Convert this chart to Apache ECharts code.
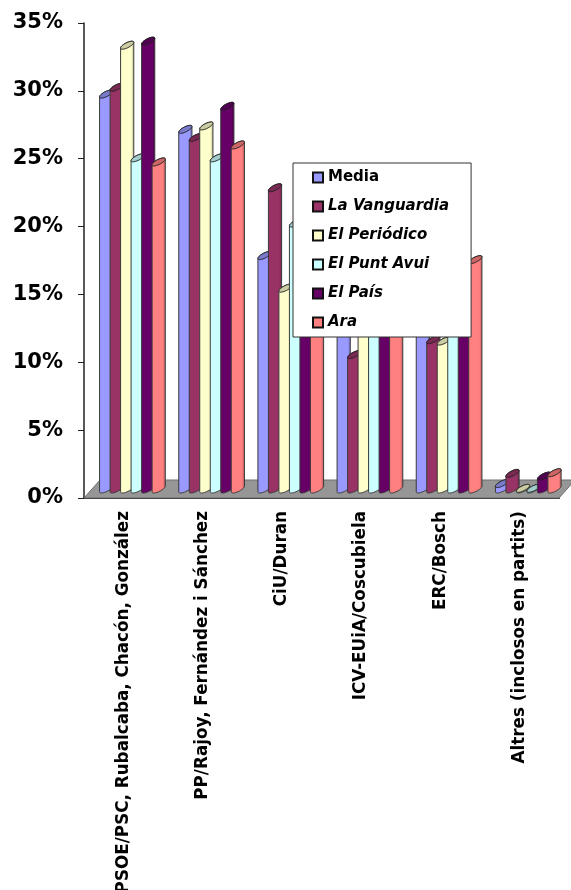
<!DOCTYPE html>
<html>
<head>
<meta charset="utf-8">
<script src="https://cdn.jsdelivr.net/npm/echarts@6/dist/echarts.min.js"></script>
<style>
* { margin: 0; padding: 0; }
body { background: #fff; }
</style>
</head>
<body>
<div id="main" style="width: 571px; height: 890px;"></div>
<script>
var categories = ["PSOE/PSC, Rubalcaba, Chacón, González", "PP/Rajoy, Fernández i Sánchez", "CiU/Duran", "ICV-EUiA/Coscubiela", "ERC/Bosch", "Altres (inclosos en partits)"];
var seriesNames = ["Media", "La Vanguardia", "El Periódico", "El Punt Avui", "El País", "Ara"];
var media = [29.1, 26.5, 17.2, 13, 12.5, 0.4];
var vanguardia = [29.6, 25.9, 22.2, 9.9, 11, 1.15];
var periodico = [32.7, 26.75, 14.8, 13, 10.9, 0.05];
var puntAvui = [24.4, 24.4, 19.6, 13, 12.5, 0.05];
var pais = [33, 28.2, 16, 13, 12.5, 0.95];
var ara = [24.1, 25.35, 16, 13, 16.9, 1.2];
var allValues = [media, vanguardia, periodico, puntAvui, pais, ara];
var colors = ["#9999ff", "#993366", "#ffffcc", "#ccffff", "#660066", "#ff8080"];
var capColors = ["#7a7acc", "#7a2952", "#cccca3", "#a3cccc", "#520052", "#cc6666"];
var sideColors = ["#6b6bb3", "#6b2447", "#b3b38f", "#8fb3b3", "#470047", "#b35a5a"];

// half of the floor depth, bars stand in the middle of it
var DEPTH_X = 8, DEPTH_Y = 9;
var STEP = 10.5, RADIUS_X = 6.6;
var TILT = -27 * Math.PI / 180, A = 7.3, B = 2.5;

function ellipsePoint(cx, cy, t) {
  var ex = A * Math.cos(t), ey = B * Math.sin(t);
  return [cx + ex * Math.cos(TILT) - ey * Math.sin(TILT), cy + ex * Math.sin(TILT) + ey * Math.cos(TILT)];
}

function renderCylinder(params, api) {
  var k = params.seriesIndex - 1;
  var pos = api.coord([api.value(0), api.value(1)]);
  var base = api.coord([api.value(0), 0]);
  var cx = pos[0] + DEPTH_X - 32 + k * STEP + RADIUS_X;
  var topY = pos[1] - DEPTH_Y, botY = base[1] - DEPTH_Y;
  var t0 = Math.atan2(-B * Math.sin(TILT), A * Math.cos(TILT));
  var body = [], cap = [], i;
  // lower half of the bottom ellipse, upper half of the top one
  for (i = 0; i <= 24; i++) body.push(ellipsePoint(cx, botY, t0 + Math.PI * i / 24));
  for (i = 0; i <= 24; i++) body.push(ellipsePoint(cx, topY, t0 + Math.PI + Math.PI * i / 24));
  for (i = 0; i < 48; i++) cap.push(ellipsePoint(cx, topY, Math.PI * 2 * i / 48));
  var fill = {
    type: "linear", x: 0, y: 0, x2: 1, y2: 0,
    colorStops: [
      { offset: 0, color: colors[k] },
      { offset: 0.78, color: colors[k] },
      { offset: 1, color: sideColors[k] }
    ]
  };
  return {
    type: "group",
    children: [
      { type: "polygon", shape: { points: body }, style: { fill: fill, stroke: "#3a3a3a", lineWidth: 1 } },
      { type: "polygon", shape: { points: cap }, style: { fill: capColors[k], stroke: "#222", lineWidth: 1 } }
    ]
  };
}

function renderFloor(params, api) {
  var g = params.coordSys;
  var y0 = g.y + g.height, x0 = g.x, x1 = g.x + g.width;
  return {
    type: "polygon",
    shape: { points: [[x0, y0], [x1, y0], [x1 + 2 * DEPTH_X, y0 - 2 * DEPTH_Y], [x0 + 2 * DEPTH_X, y0 - 2 * DEPTH_Y]] },
    style: { fill: "#969696", stroke: "#6e6e6e", lineWidth: 1 }
  };
}

var series = [{
  name: "floor",
  type: "custom",
  silent: true,
  clip: false,
  renderItem: renderFloor,
  data: [[0, 0]],
  z: 1
}];
seriesNames.forEach(function (name, k) {
  series.push({
    name: name,
    type: "custom",
    silent: true,
    clip: false,
    renderItem: renderCylinder,
    itemStyle: { color: colors[k] },
    encode: { x: 0, y: 1 },
    data: allValues[k].map(function (v, i) { return [i, v]; }),
    z: 2
  });
});

var chart = echarts.init(document.getElementById("main"), null, { renderer: "canvas" });
chart.setOption({
  animation: false,
  backgroundColor: "#fff",
  textStyle: { fontFamily: "DejaVu Sans" },
  // the long label runs off the bottom of the page, the grid must not shrink for it
  grid: { left: 84, right: 12, top: 23, bottom: 392, outerBoundsMode: "none" },
  legend: {
    orient: "vertical",
    left: 293,
    top: 163,
    z: 10,
    backgroundColor: "#fff",
    borderColor: "#333",
    borderWidth: 1,
    padding: [7, 22, 7, 19],
    itemWidth: 10,
    itemHeight: 10,
    itemGap: 14,
    icon: "rect",
    itemStyle: { borderColor: "#111", borderWidth: 2 },
    selectedMode: false,
    textStyle: { fontFamily: "DejaVu Sans", fontWeight: "bold", fontSize: 15, color: "#000" },
    data: seriesNames.map(function (n, k) {
      return { name: n, textStyle: { fontStyle: k === 0 ? "normal" : "italic", fontWeight: "bold", fontSize: 15, color: "#000" } };
    })
  },
  xAxis: {
    type: "category",
    data: categories,
    boundaryGap: true,
    axisLine: { lineStyle: { color: "#222", width: 2 } },
    axisTick: { length: 6, alignWithLabel: false, lineStyle: { color: "#222", width: 1 } },
    axisLabel: { interval: 0, rotate: 90, margin: 13, fontSize: 16.8, fontWeight: "bold", color: "#000", fontFamily: "DejaVu Sans", hideOverlap: false }
  },
  yAxis: {
    type: "value",
    min: 0,
    max: 35,
    interval: 5,
    axisLine: { show: true, lineStyle: { color: "#222", width: 1.5 } },
    axisTick: { show: true, length: 6, lineStyle: { color: "#222", width: 1 } },
    splitLine: { show: false },
    axisLabel: { formatter: "{value}%", margin: 21, padding: [7, 0, 0, 0], fontSize: 21, fontWeight: "bold", color: "#000", fontFamily: "DejaVu Sans" }
  },
  series: series
});
</script>
</body>
</html>
